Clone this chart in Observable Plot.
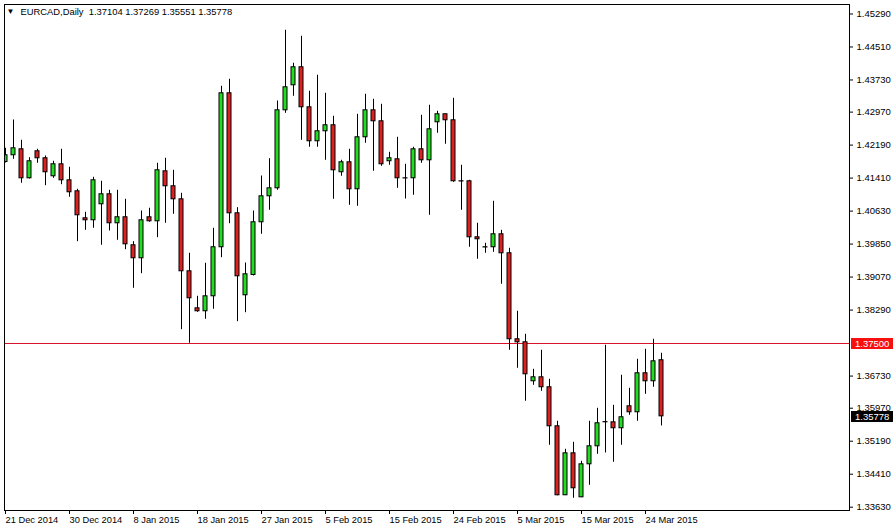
<!DOCTYPE html>
<html>
<head>
<meta charset="utf-8">
<script src="https://cdn.jsdelivr.net/npm/d3@7"></script>
<script src="https://cdn.jsdelivr.net/npm/@observablehq/plot@0.6"></script>
<style>
  html, body { margin: 0; padding: 0; background: #fff; }
  #chart { width: 894px; height: 530px; overflow: hidden; }
</style>
</head>
<body>
<div id="chart"></div>
<script>
// EURCAD daily candles, bar index 0 = 21 Dec 2014
const opens = [
  1.41791, 1.41950, 1.42091, 1.41406, 1.42044, 1.41879, 1.41453, 1.41737, 1.41358, 1.41098,
  1.40460, 1.40413, 1.40791, 1.41028, 1.40342, 1.40484, 1.39822, 1.39515, 1.40484, 1.40389,
  1.41571, 1.41217, 1.40909, 1.39207, 1.38332, 1.38262, 1.38616, 1.39775, 1.43415, 1.40578,
  1.38640, 1.39120, 1.40366, 1.40980, 1.41169, 1.43013, 1.43604, 1.44030, 1.43084, 1.42281,
  1.42517, 1.42659, 1.41548, 1.41784, 1.41146, 1.42375, 1.43013, 1.42753, 1.41808, 1.41855,
  1.41406, 1.41406, 1.42091, 1.41831, 1.42730, 1.42919, 1.42777, 1.41335, 1.41335, 1.40011,
  1.39775, 1.39775, 1.40082, 1.39633, 1.37600, 1.37529, 1.36607, 1.36701, 1.36465, 1.35543,
  1.33912, 1.34904, 1.33864, 1.34644, 1.35070, 1.35637, 1.35637, 1.35496, 1.36016, 1.35874,
  1.36796, 1.36607, 1.37104
];
const highs = [
  1.42115, 1.42784, 1.42304, 1.41893, 1.42091, 1.41933, 1.41808, 1.42091, 1.41666, 1.41146,
  1.40602, 1.41429, 1.41335, 1.41122, 1.41122, 1.40909, 1.39907, 1.40633, 1.40697, 1.41760,
  1.41879, 1.41595, 1.41051, 1.39633, 1.38616, 1.39396, 1.40224, 1.43581, 1.43746, 1.40711,
  1.39403, 1.40633, 1.41460, 1.41869, 1.43233, 1.44905, 1.44125, 1.44763, 1.43463, 1.43841,
  1.43415, 1.42872, 1.41831, 1.42091, 1.42919, 1.43392, 1.43273, 1.43155, 1.42020, 1.42375,
  1.41737, 1.42139, 1.42895, 1.43132, 1.42990, 1.42925, 1.43297, 1.41713, 1.41358, 1.40342,
  1.39869, 1.40862, 1.40176, 1.39751, 1.38262, 1.37718, 1.36890, 1.37340, 1.36654, 1.35661,
  1.34999, 1.35165, 1.34715, 1.35661, 1.35968, 1.37458, 1.36039, 1.36749, 1.36441, 1.37127,
  1.37363, 1.37600, 1.37269
];
const lows = [
  1.41767, 1.41855, 1.41288, 1.41389, 1.41760, 1.41231, 1.41406, 1.41254, 1.40957, 1.39907,
  1.40176, 1.40224, 1.39822, 1.40160, 1.39940, 1.39718, 1.38805, 1.39150, 1.40366, 1.40002,
  1.40342, 1.40555, 1.37827, 1.37505, 1.38238, 1.38072, 1.38309, 1.39529, 1.40332, 1.38016,
  1.38228, 1.39096, 1.40082, 1.40649, 1.41122, 1.42942, 1.43344, 1.42304, 1.42139, 1.42139,
  1.41831, 1.40909, 1.41453, 1.40767, 1.40744, 1.42233, 1.41571, 1.41689, 1.41713, 1.41169,
  1.40916, 1.41004, 1.41760, 1.40531, 1.42470, 1.42210, 1.41311, 1.40649, 1.39775, 1.39491,
  1.39633, 1.39656, 1.38900, 1.37340, 1.36914, 1.36134, 1.36512, 1.36370, 1.35094, 1.33900,
  1.33905, 1.33841, 1.33855, 1.34148, 1.34881, 1.34912, 1.34692, 1.35094, 1.35803, 1.35661,
  1.36299, 1.36465, 1.35551
];
const closes = [
  1.41950, 1.42115, 1.41406, 1.41808, 1.41879, 1.41548, 1.41737, 1.41358, 1.41075, 1.40531,
  1.40413, 1.41358, 1.41028, 1.40342, 1.40484, 1.39845, 1.39515, 1.40413, 1.40389, 1.41595,
  1.41217, 1.40909, 1.39207, 1.38569, 1.38262, 1.38616, 1.39775, 1.43415, 1.40578, 1.39089,
  1.39136, 1.40366, 1.40980, 1.41169, 1.43013, 1.43557, 1.44030, 1.43084, 1.42281, 1.42517,
  1.42659, 1.41595, 1.41784, 1.41146, 1.42375, 1.43013, 1.42753, 1.41737, 1.41879, 1.41406,
  1.41402, 1.42091, 1.41831, 1.42564, 1.42919, 1.42777, 1.41335, 1.41330, 1.40011, 1.39964,
  1.39770, 1.40082, 1.39633, 1.37600, 1.37529, 1.36772, 1.36701, 1.36465, 1.35543, 1.33912,
  1.34904, 1.34077, 1.34644, 1.35070, 1.35614, 1.35642, 1.35496, 1.35756, 1.35874, 1.36796,
  1.36607, 1.37079, 1.35778
];
const xTickIndex = [0, 8, 16, 24, 32, 40, 48, 56, 64, 72, 80];
const xTickLabels = ["21 Dec 2014", "30 Dec 2014", "8 Jan 2015", "18 Jan 2015", "27 Jan 2015",
  "5 Feb 2015", "15 Feb 2015", "24 Feb 2015", "5 Mar 2015", "15 Mar 2015", "24 Mar 2015"];
const yTicks = [1.45290, 1.44510, 1.43730, 1.42970, 1.42190, 1.41410, 1.40630, 1.39850,
  1.39070, 1.38290, 1.36730, 1.35970, 1.35190, 1.34410, 1.33630];
const levelLine = 1.37500;
const symbolTitle = "EURCAD,Daily  1.37104 1.37269 1.35551 1.35778";

const bullColor = "#22dd22";
const bearColor = "#dd2222";
const lineColor = "#d8102a";
const lineTagColor = "#f81010";
const fontFamily = "'Liberation Sans', Arial, sans-serif";

const bars = opens.map((o, i) => ({i, open: o, high: highs[i], low: lows[i], close: closes[i]}));
const labelOf = new Map(xTickIndex.map((d, k) => [d, xTickLabels[k]]));

const chart = Plot.plot({
  width: 894,
  height: 530,
  marginLeft: 4,
  marginRight: 45,
  marginTop: 4,
  marginBottom: 20,
  style: {fontFamily, fontSize: "9.5px", background: "white", color: "black", overflow: "visible"},
  x: {type: "band", domain: d3.range(0, 106), range: [1, 849], padding: 0, axis: null, label: null},
  y: {domain: [1.33552, 1.45514], axis: null, label: null},
  marks: [
    Plot.ruleY([levelLine], {stroke: lineColor, strokeWidth: 1}),
    Plot.ruleX(bars, {x: "i", y1: "low", y2: "high", stroke: "black", strokeWidth: 1, clip: true}),
    Plot.barY(bars, {
      x: "i",
      y1: d => Math.min(d.open, d.close),
      y2: d => Math.max(d.open, d.close),
      fill: d => d.close >= d.open ? bullColor : bearColor,
      stroke: "black",
      strokeWidth: 1,
      insetLeft: 2,
      insetRight: 2,
      clip: true
    }),
    Plot.frame({stroke: "black"}),
    Plot.axisX({ticks: xTickIndex, tickFormat: d => labelOf.get(d), label: null, textAnchor: "start", tickSize: 4, tickPadding: 2, fontSize: 9.3}),
    Plot.axisY({anchor: "right", ticks: yTicks, tickFormat: d3.format(".5f"), label: null, tickSize: 3, tickPadding: 4, fontSize: 9.5}),
    Plot.text(["▼"], {frameAnchor: "top-left", dx: 2, dy: 4, fontSize: 8, textAnchor: "start", lineAnchor: "top"}),
    Plot.text([symbolTitle], {frameAnchor: "top-left", dx: 16, dy: 4, fontSize: 9.4, textAnchor: "start", lineAnchor: "top"})
  ]
});

// price tags in the right margin, positioned through the plot's own y scale
const yScale = chart.scale("y");
const svg = d3.select(chart);
function tag(value, bg) {
  const y = Math.round(yScale.apply(value));
  const g = svg.append("g");
  g.append("rect").attr("x", 851).attr("y", y - 5).attr("width", 42).attr("height", 11).attr("fill", bg);
  g.append("text").attr("x", 855).attr("y", y + 0.5).attr("dy", "0.36em")
    .attr("text-anchor", "start")
    .attr("fill", "white").attr("font-size", 9.5).attr("font-family", fontFamily)
    .text(d3.format(".5f")(value));
}
tag(levelLine, lineTagColor);
tag(closes[closes.length - 1], "black");

document.getElementById("chart").appendChild(chart);
</script>
</body>
</html>
